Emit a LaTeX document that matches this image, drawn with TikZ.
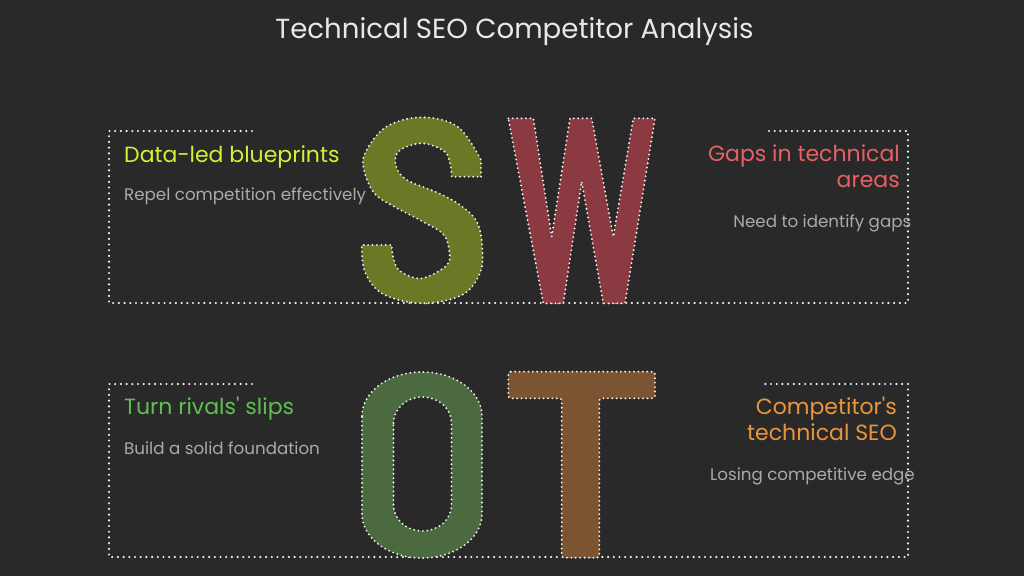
\documentclass[tikz,border=0pt]{standalone}
\usepackage{fontspec}
\setmainfont{Poppins}[Ligatures=TeXOff]
\definecolor{bgc}{RGB}{41,41,41}
\definecolor{dotc}{RGB}{240,240,236}
\definecolor{titlec}{RGB}{232,232,232}
\definecolor{bodyc}{RGB}{170,170,170}
\definecolor{sfill}{RGB}{108,120,38}
\definecolor{wfill}{RGB}{140,58,66}
\definecolor{ofill}{RGB}{76,106,64}
\definecolor{tfill}{RGB}{125,84,49}
\definecolor{shead}{RGB}{214,238,52}
\definecolor{whead}{RGB}{232,96,102}
\definecolor{ohead}{RGB}{96,190,82}
\definecolor{thead}{RGB}{234,150,62}
\begin{document}
\begin{tikzpicture}[x=1pt,y=-1pt,
  boxdots/.style={draw=dotc, line width=2.4pt, line cap=round, dash pattern=on 0pt off 5.7pt},
  letterdots/.style={draw=dotc, line width=2.1pt, line cap=round, dash pattern=on 0pt off 4.4pt},
  titletext/.style={text=titlec, font=\fontsize{27.6}{32}\selectfont, inner sep=0pt},
  headtext/.style={font=\fontsize{22}{26}\selectfont, inner sep=0pt},
  bodytext/.style={text=bodyc, font=\fontsize{16.7}{20}\selectfont, inner sep=0pt}]
\fill[bgc] (0,0) rectangle (1024,576);
\useasboundingbox (0,0) rectangle (1024,576);

% title
\node[titletext, anchor=base] (title) at (514.5,38.3) {Technical SEO Competitor Analysis};

% dotted frames
\draw[boxdots] (252,131) -- (109,131) -- (109,303) -- (908,303) -- (908,131) -- (764,131);
\draw[boxdots] (252,384) -- (109,384) -- (109,557) -- (908,557) -- (908,384) -- (764,384);

% S
\path[fill=sfill, letterdots]
  (481,176.7) -- (481,160)
  -- plot[smooth, tension=0.6] coordinates {(481,160) (458,127) (421.7,117.3) (386,127) (365,153.3) (364.5,172) (375,194) (395,207) (421.7,221) (443,234) (449,250) (447,265) (421.7,278.3) (400,271) (393.3,258) (391.7,245)}
  -- (361.7,245)
  -- plot[smooth, tension=0.6] coordinates {(361.7,245) (365,272) (383,294) (421.7,303.3) (462,295) (480,273) (482.3,248) (477,222) (460,205) (438.3,193) (407,180) (396,166) (399,151) (421.7,143.3) (444,151) (450,163.3) (451.7,176.7)}
  -- cycle;

% W
\path[fill=wfill, letterdots]
  (508.3,118.3) -- (533.3,118.3) -- (551.7,236.7) -- (570,118.3) -- (591.7,118.3)
  -- (613.3,236.7) -- (633.3,118.3) -- (655,118.3) -- (625,303.3) -- (603.3,303.3)
  -- (581.7,181.7) -- (563.3,303.3) -- (543.3,303.3) -- cycle;

% O
\path[fill=ofill, even odd rule, letterdots]
  (362,416) .. controls (362,391.7) and (388.9,372) .. (422,372)
  .. controls (455.1,372) and (482,391.7) .. (482,416) -- (482,514)
  .. controls (482,538.3) and (455.1,558) .. (422,558)
  .. controls (388.9,558) and (362,538.3) .. (362,514) -- cycle
  (393.5,423) .. controls (393.5,408.6) and (406.5,397) .. (422.5,397)
  .. controls (438.5,397) and (451.5,408.6) .. (451.5,423) -- (451.5,505)
  .. controls (451.5,519.4) and (438.5,531) .. (422.5,531)
  .. controls (406.5,531) and (393.5,519.4) .. (393.5,505) -- cycle;

% T
\path[fill=tfill, letterdots, rounded corners=2.5pt]
  (508.3,371.7) -- (655,371.7) -- (655,398.3) -- (599.3,398.3) -- (599.3,557.7)
  -- (561.7,557.7) -- (561.7,398.3) -- (508.3,398.3) -- cycle;

% texts
\node[headtext, text=shead, anchor=base west] (sh) at (124,162) {Data-led blueprints};
\node[bodytext, anchor=base west] (sb) at (124,200.5) {Repel competition effectively};

\node[headtext, text=whead, anchor=base east, align=right] (wh) at (900,187.3) {Gaps in technical\\areas\ };
\node[bodytext, anchor=base east] (wb) at (911.5,227) {Need to identify gaps};

\node[headtext, text=ohead, anchor=base west] (oh) at (124,414) {Turn rivals' slips};
\node[bodytext, anchor=base west] (ob) at (124,454) {Build a solid foundation};

\node[headtext, text=thead, anchor=base east, align=right] (th) at (897,440.7) {Competitor's\\technical SEO\ };
\node[bodytext, anchor=base east] (tb) at (915,480) {Losing competitive edge};
\end{tikzpicture}
\end{document}
